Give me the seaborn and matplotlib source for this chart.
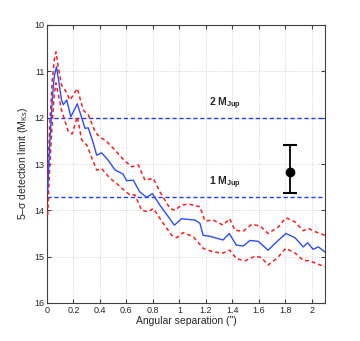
import matplotlib
matplotlib.use("Agg")
import matplotlib.pyplot as plt
import seaborn as sns
import pandas as pd

# median 5-sigma contrast curve (blue) and its envelope (red dashed)
sep_mid = [0.005, 0.02, 0.04, 0.055, 0.072, 0.11, 0.123, 0.149, 0.18, 0.229, 0.267, 0.287,
           0.312, 0.35, 0.375, 0.413, 0.463, 0.514, 0.576, 0.60, 0.652, 0.70, 0.753, 0.796,
           0.853, 0.917, 0.962, 1.017, 1.08, 1.118, 1.155, 1.18, 1.23, 1.33, 1.377, 1.43,
           1.483, 1.533, 1.596, 1.67, 1.735, 1.805, 1.873, 1.936, 1.969, 2.01, 2.05, 2.1]
mag_mid = [13.6, 12.6, 11.6, 11.1, 10.9, 11.62, 11.72, 11.62, 11.98, 11.70, 12.05, 12.23,
           12.22, 12.55, 12.81, 12.76, 12.92, 13.13, 13.22, 13.36, 13.35, 13.6, 13.72, 13.64,
           13.89, 14.14, 14.32, 14.18, 14.2, 14.21, 14.28, 14.54, 14.56, 14.64, 14.5, 14.75,
           14.77, 14.65, 14.67, 14.86, 14.68, 14.5, 14.59, 14.79, 14.7, 14.84, 14.79, 14.9]

sep_up = [0.005, 0.02, 0.04, 0.055, 0.068, 0.085, 0.11, 0.136, 0.174, 0.229, 0.274, 0.312,
          0.363, 0.40, 0.438, 0.514, 0.576, 0.64, 0.69, 0.74, 0.803, 0.853, 0.929, 0.967,
          1.017, 1.08, 1.118, 1.155, 1.193, 1.256, 1.33, 1.38, 1.42, 1.483, 1.546, 1.61,
          1.67, 1.747, 1.805, 1.873, 1.936, 1.974, 2.024, 2.1]
mag_up = [13.3, 12.2, 11.2, 10.75, 10.58, 10.9, 11.3, 11.4, 11.62, 11.37, 11.84, 11.94,
          12.3, 12.43, 12.48, 12.7, 12.9, 13.06, 13.02, 13.35, 13.31, 13.6, 13.96, 14.0,
          13.88, 13.87, 13.9, 13.92, 14.23, 14.21, 14.32, 14.18, 14.43, 14.45, 14.3, 14.34,
          14.5, 14.36, 14.16, 14.25, 14.44, 14.39, 14.46, 14.54]

sep_lo = [0.005, 0.02, 0.04, 0.055, 0.068, 0.11, 0.161, 0.19, 0.229, 0.262, 0.30, 0.375,
          0.413, 0.476, 0.526, 0.564, 0.627, 0.665, 0.715, 0.765, 0.803, 0.878, 0.942, 0.98,
          1.03, 1.105, 1.18, 1.256, 1.33, 1.38, 1.43, 1.495, 1.57, 1.62, 1.67, 1.735, 1.805,
          1.873, 1.936, 1.986, 2.037, 2.1]
mag_lo = [14.1, 13.1, 12.1, 11.5, 11.25, 11.84, 12.3, 12.35, 11.98, 12.48, 12.59, 13.13,
          13.1, 13.31, 13.42, 13.52, 13.67, 13.67, 14.0, 14.03, 13.96, 14.28, 14.54, 14.59,
          14.48, 14.57, 14.82, 14.9, 14.92, 14.86, 15.04, 15.09, 14.99, 15.02, 15.18, 15.04,
          14.82, 14.92, 15.08, 15.09, 15.15, 15.22]

# mass limits and the companion point
mass_levels = [12.0, 13.71]
mass_labels = ["2 M$_{\\mathbf{Jup}}$", "1 M$_{\\mathbf{Jup}}$"]
comp_sep = [1.833]
comp_mag = [13.17]
comp_err_lo = [0.58]
comp_err_hi = [0.45]

x_ticks = [0, 0.2, 0.4, 0.6, 0.8, 1, 1.2, 1.4, 1.6, 1.8, 2]
x_tick_labels = ["0", "0.2", "0.4", "0.6", "0.8", "1", "1.2", "1.4", "1.6", "1.8", "2"]
y_ticks = [10, 11, 12, 13, 14, 15, 16]

sns.set_style("ticks")
plt.rcParams["font.family"] = ["Liberation Sans", "DejaVu Sans"]
plt.rcParams["mathtext.fontset"] = "custom"
plt.rcParams["mathtext.rm"] = "Liberation Sans"
plt.rcParams["mathtext.bf"] = "Liberation Sans:bold"

fig = plt.figure(figsize=(3.6, 3.41), dpi=100)
ax = fig.add_axes([47 / 360, 1 - 303 / 341, 278 / 360, 278 / 341])

mid_df = pd.DataFrame({"sep": sep_mid, "mag": mag_mid})
up_df = pd.DataFrame({"sep": sep_up, "mag": mag_up})
lo_df = pd.DataFrame({"sep": sep_lo, "mag": mag_lo})

for lvl in mass_levels:
    ax.axhline(lvl, color="#1f3dff", lw=1.0, ls=(0, (3, 2)), zorder=2)

sns.lineplot(data=up_df, x="sep", y="mag", ax=ax, sort=False, estimator=None,
             color="#ff1a1a", lw=1.1, ls=(0, (2.5, 2)), zorder=3)
sns.lineplot(data=lo_df, x="sep", y="mag", ax=ax, sort=False, estimator=None,
             color="#ff1a1a", lw=1.1, ls=(0, (2.5, 2)), zorder=3)
sns.lineplot(data=mid_df, x="sep", y="mag", ax=ax, sort=False, estimator=None,
             color="#2a4dff", lw=1.0, zorder=4)

ax.errorbar(comp_sep, comp_mag, yerr=[comp_err_lo, comp_err_hi], fmt="o", color="black",
            ms=6, lw=1.3, capsize=5, capthick=1.5, zorder=5)

for lvl, lab in zip(mass_levels, mass_labels):
    ax.text(1.22, lvl - 0.12, lab, fontsize=7.5, fontweight="bold",
            ha="left", va="bottom")

ax.set_xlim(0, 2.1)
ax.set_ylim(16, 10)
ax.set_xticks(x_ticks)
ax.set_xticklabels(x_tick_labels)
ax.set_yticks(y_ticks)
ax.grid(True, color="#c8c8c8", ls=":", lw=0.6)
ax.tick_params(direction="in", length=3, labelsize=6.5, top=True, right=True,
               color="#404040", pad=2)
for s in ax.spines.values():
    s.set_color("#404040")
    s.set_linewidth(0.8)

ax.set_xlabel("Angular separation (\")", fontsize=7.5, labelpad=1)
ax.set_ylabel("5\u2013\u03c3 detection limit (M$_{\\mathrm{Ks}}$)", fontsize=7.5, labelpad=3)

fig.savefig("out.png", dpi=100)
